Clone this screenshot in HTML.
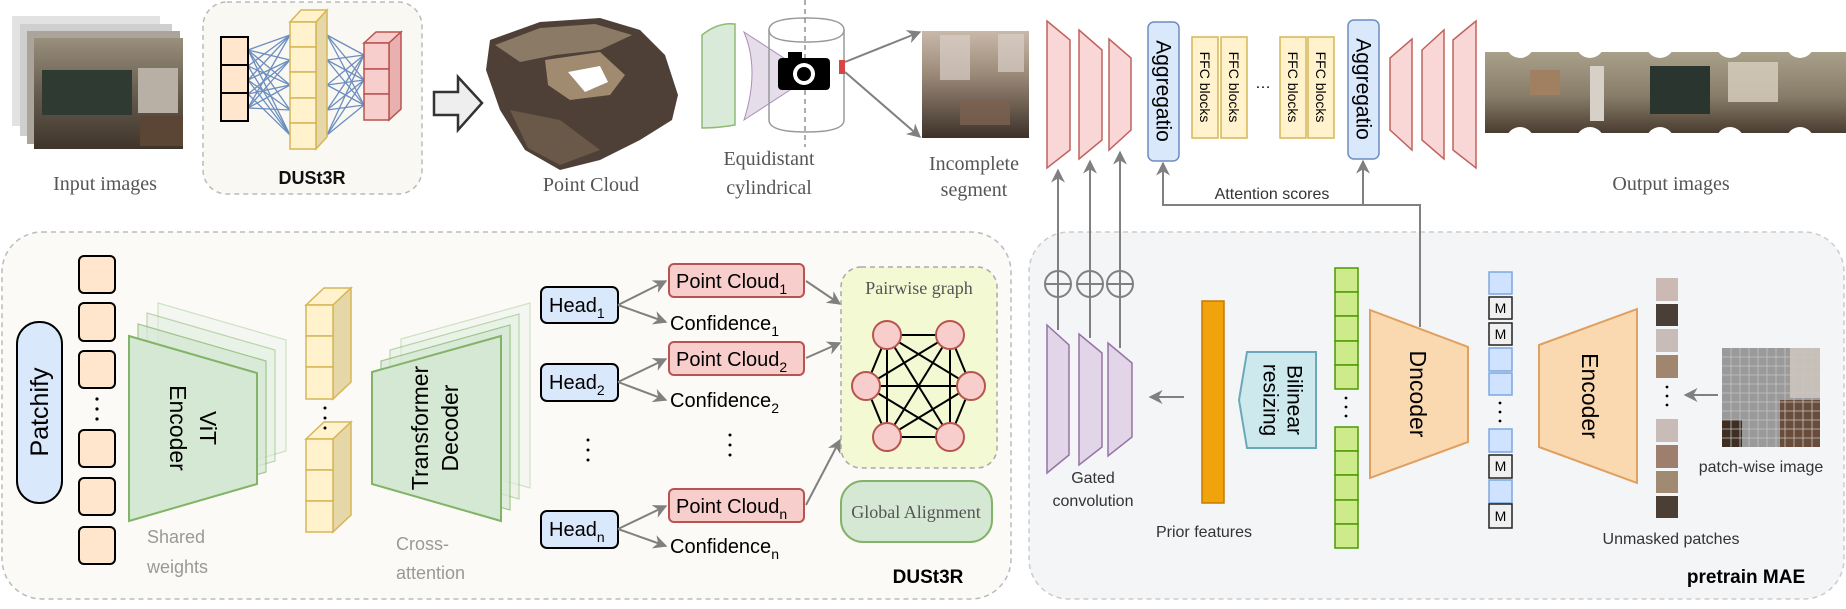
<!DOCTYPE html>
<html><head><meta charset="utf-8"><style>
html,body{margin:0;padding:0;background:#fff}
svg{display:block}
.serif{font-family:"Liberation Serif",serif;fill:#555}
.sans{font-family:"Liberation Sans",sans-serif}
</style></head><body>
<svg width="1846" height="609" viewBox="0 0 1846 609" xmlns="http://www.w3.org/2000/svg">
<defs>
<marker id="ah" viewBox="0 0 10 10" refX="9" refY="5" markerWidth="7" markerHeight="7" orient="auto-start-reverse"><path d="M0,0 L10,5 L0,10 L3,5 z" fill="#808080"/></marker>
<linearGradient id="room" x1="0" y1="0" x2="0" y2="1"><stop offset="0" stop-color="#9a8f7c"/><stop offset="0.45" stop-color="#6b6152"/><stop offset="1" stop-color="#3e342a"/></linearGradient>
<linearGradient id="seg" x1="0" y1="0" x2="0" y2="1"><stop offset="0" stop-color="#c9b9aa"/><stop offset="0.4" stop-color="#9c8a79"/><stop offset="1" stop-color="#3c3129"/></linearGradient>
<linearGradient id="pano" x1="0" y1="0" x2="0" y2="1"><stop offset="0" stop-color="#a9a08a"/><stop offset="0.55" stop-color="#877c68"/><stop offset="1" stop-color="#4a3c30"/></linearGradient>
</defs>

<!-- ============ TOP ROW ============ -->
<!-- Input images stack -->
<rect x="12" y="16" width="148" height="110" fill="#e2e2e2"/>
<rect x="20" y="24" width="152" height="112" fill="#cfcfcf"/>
<rect x="27" y="31" width="153" height="113" fill="#aaa49a"/>
<rect x="34" y="38" width="149" height="111" fill="url(#room)"/>
<rect x="42" y="70" width="90" height="45" fill="#2f3a33"/>
<rect x="138" y="68" width="40" height="45" fill="#b8b0a4"/>
<rect x="140" y="116" width="43" height="30" fill="#5b4636"/>
<text x="105" y="190" class="serif" font-size="20" text-anchor="middle">Input images</text>

<!-- DUSt3R top box -->
<rect x="203" y="2" width="219" height="192" rx="24" fill="#faf8f3" stroke="#bbb" stroke-dasharray="5,4" stroke-width="1.5"/>
<g stroke="#6c8ebf" stroke-width="1.3">
<line x1="248" y1="50" x2="290" y2="35"/><line x1="248" y1="50" x2="290" y2="60"/><line x1="248" y1="50" x2="290" y2="85"/><line x1="248" y1="50" x2="290" y2="110"/><line x1="248" y1="50" x2="290" y2="135"/>
<line x1="248" y1="66" x2="290" y2="35"/><line x1="248" y1="66" x2="290" y2="85"/><line x1="248" y1="66" x2="290" y2="135"/>
<line x1="248" y1="80" x2="290" y2="35"/><line x1="248" y1="80" x2="290" y2="60"/><line x1="248" y1="80" x2="290" y2="110"/><line x1="248" y1="80" x2="290" y2="135"/>
<line x1="248" y1="94" x2="290" y2="60"/><line x1="248" y1="94" x2="290" y2="85"/><line x1="248" y1="94" x2="290" y2="135"/>
<line x1="248" y1="108" x2="290" y2="35"/><line x1="248" y1="108" x2="290" y2="60"/><line x1="248" y1="108" x2="290" y2="85"/><line x1="248" y1="108" x2="290" y2="110"/>
<line x1="327" y1="35" x2="364" y2="55"/><line x1="327" y1="35" x2="364" y2="80"/><line x1="327" y1="35" x2="364" y2="105"/>
<line x1="327" y1="60" x2="364" y2="55"/><line x1="327" y1="60" x2="364" y2="80"/><line x1="327" y1="60" x2="364" y2="105"/>
<line x1="327" y1="85" x2="364" y2="55"/><line x1="327" y1="85" x2="364" y2="80"/><line x1="327" y1="85" x2="364" y2="105"/>
<line x1="327" y1="110" x2="364" y2="55"/><line x1="327" y1="110" x2="364" y2="80"/><line x1="327" y1="110" x2="364" y2="105"/>
<line x1="327" y1="135" x2="364" y2="55"/><line x1="327" y1="135" x2="364" y2="80"/><line x1="327" y1="135" x2="364" y2="105"/>
</g>
<g fill="#ffe6cc" stroke="#000" stroke-width="2">
<rect x="221" y="37" width="27" height="28"/><rect x="221" y="65" width="27" height="28"/><rect x="221" y="93" width="27" height="28"/>
</g>
<g stroke="#d6b656" stroke-width="1.5">
<polygon points="290,22 301,10 327,10 316,22" fill="#fff2cc"/>
<polygon points="316,22 327,10 327,137 316,149" fill="#e6d7a8"/>
<g fill="#fff2cc"><rect x="290" y="22" width="26" height="25"/><rect x="290" y="47" width="26" height="25"/><rect x="290" y="72" width="26" height="26"/><rect x="290" y="98" width="26" height="25"/><rect x="290" y="123" width="26" height="26"/></g>
</g>
<g stroke="#b85450" stroke-width="1.5">
<polygon points="364,43 376,32 401,32 389,43" fill="#f8cecc"/>
<polygon points="389,43 401,32 401,109 389,120" fill="#e8b0ae"/>
<g fill="#f8cecc"><rect x="364" y="43" width="25" height="26"/><rect x="364" y="69" width="25" height="25"/><rect x="364" y="94" width="25" height="26"/></g>
</g>
<text x="312" y="184" class="sans" font-size="18" font-weight="bold" text-anchor="middle" fill="#111">DUSt3R</text>

<!-- hollow arrow -->
<polygon points="434,92 458,92 458,77 482,103 458,130 458,115 434,115" fill="#eee" stroke="#333" stroke-width="2.5"/>

<!-- point cloud -->
<polygon points="490,40 540,22 600,18 640,30 665,55 678,95 672,120 640,140 600,160 560,170 525,150 500,110 486,70" fill="#4e4036"/>
<polygon points="495,45 540,28 595,24 632,35 600,50 555,55 520,62" fill="#8a7a66"/>
<polygon points="545,60 600,52 625,75 610,95 570,100 548,85" fill="#a08a70"/>
<polygon points="568,72 600,66 608,82 585,92" fill="#fff"/>
<polygon points="510,110 560,120 600,150 560,165 528,148" fill="#6a5848"/>
<text x="591" y="191" class="serif" font-size="20" text-anchor="middle">Point Cloud</text>

<!-- cylindrical projection -->
<path d="M702,35 Q718,22 735,24 L735,125 Q718,128 702,128 Z" fill="#d5e8d4" stroke="#82b366" stroke-width="1.5" opacity="0.9"/>
<path d="M744,32 Q760,70 744,120 L790,90 L790,62 Z" fill="#e1d5e7" stroke="#9673a6" stroke-width="1" opacity="0.8"/>
<path d="M769,30 Q769,18 806,18 Q844,18 844,30 L844,120 Q844,132 806,132 Q769,132 769,120 Z" fill="none" stroke="#999" stroke-width="1.5"/>
<path d="M769,30 Q769,42 806,42 Q844,42 844,30" fill="none" stroke="#999" stroke-width="1.5"/>
<line x1="805" y1="0" x2="805" y2="147" stroke="#777" stroke-width="1.2" stroke-dasharray="5,4"/>
<rect x="778" y="58" width="52" height="32" rx="4" fill="#000"/>
<rect x="788" y="52" width="14" height="8" fill="#000"/>
<circle cx="804" cy="74" r="11" fill="#fff"/><circle cx="804" cy="74" r="7" fill="#000"/>
<rect x="839" y="60" width="6" height="14" fill="#d64541"/>
<text x="769" y="165" class="serif" font-size="20" text-anchor="middle">Equidistant</text>
<text x="769" y="194" class="serif" font-size="20" text-anchor="middle">cylindrical</text>
<line x1="845" y1="62" x2="920" y2="32" stroke="#808080" stroke-width="2" marker-end="url(#ah)"/>
<line x1="845" y1="72" x2="920" y2="137" stroke="#808080" stroke-width="2" marker-end="url(#ah)"/>

<!-- incomplete segment -->
<rect x="922" y="31" width="107" height="107" fill="url(#seg)"/>
<rect x="940" y="35" width="30" height="45" fill="#d8cfc8" opacity="0.7"/>
<rect x="998" y="34" width="26" height="38" fill="#d8cfc8" opacity="0.7"/>
<rect x="960" y="100" width="50" height="25" fill="#7a6250" opacity="0.8"/>
<text x="974" y="170" class="serif" font-size="20" text-anchor="middle">Incomplete</text>
<text x="974" y="196" class="serif" font-size="20" text-anchor="middle">segment</text>

<!-- red trapezoids left -->
<g fill="#f8d7d6" stroke="#c0635f" stroke-width="1.5">
<polygon points="1047,21 1070,40 1070,150 1047,168"/>
<polygon points="1079,30 1102,50 1102,140 1079,159"/>
<polygon points="1109,39 1131,58 1131,130 1109,150"/>
<polygon points="1390,58 1412,39 1412,150 1390,130"/>
<polygon points="1422,50 1444,30 1444,159 1422,140"/>
<polygon points="1453,40 1476,21 1476,168 1453,150"/>
</g>
<!-- aggregatio -->
<rect x="1148" y="22" width="31" height="139" rx="6" fill="#dae8fc" stroke="#6c8ebf" stroke-width="1.5"/>
<text transform="translate(1163,91) rotate(90)" class="sans" font-size="21" text-anchor="middle" dominant-baseline="central" fill="#000">Aggregatio</text>
<rect x="1348" y="20" width="31" height="139" rx="6" fill="#dae8fc" stroke="#6c8ebf" stroke-width="1.5"/>
<text transform="translate(1363,89) rotate(90)" class="sans" font-size="21" text-anchor="middle" dominant-baseline="central" fill="#000">Aggregatio</text>
<g fill="#fff2cc" stroke="#d6b656" stroke-width="1.5">
<rect x="1192" y="37" width="26" height="101"/><rect x="1221" y="37" width="26" height="101"/>
<rect x="1280" y="37" width="26" height="101"/><rect x="1308" y="37" width="26" height="101"/>
</g>
<g class="sans" font-size="14" fill="#000" text-anchor="middle" dominant-baseline="central">
<text transform="translate(1205,87) rotate(90)">FFC blocks</text>
<text transform="translate(1234,87) rotate(90)">FFC blocks</text>
<text transform="translate(1293,87) rotate(90)">FFC blocks</text>
<text transform="translate(1321,87) rotate(90)">FFC blocks</text>
</g>
<text x="1263" y="88" class="sans" font-size="16" text-anchor="middle" fill="#000">…</text>

<!-- output panorama -->
<rect x="1485" y="52" width="361" height="81" fill="url(#pano)"/>
<rect x="1530" y="70" width="30" height="25" fill="#a08060"/>
<rect x="1650" y="66" width="60" height="48" fill="#2a3530"/>
<rect x="1728" y="62" width="50" height="40" fill="#d8d0c0" opacity="0.8"/>
<rect x="1590" y="66" width="14" height="55" fill="#d6d0c6"/>
<g fill="#fff">
<circle cx="1520" cy="44" r="14"/><circle cx="1590" cy="44" r="14"/><circle cx="1660" cy="44" r="14"/><circle cx="1730" cy="44" r="14"/><circle cx="1800" cy="44" r="14"/>
<circle cx="1520" cy="141" r="14"/><circle cx="1590" cy="141" r="14"/><circle cx="1660" cy="141" r="14"/><circle cx="1730" cy="141" r="14"/><circle cx="1800" cy="141" r="14"/>
</g>
<text x="1671" y="190" class="serif" font-size="20" text-anchor="middle">Output images</text>

<!-- ============ BOTTOM LEFT PANEL ============ -->
<rect x="2" y="232" width="1009" height="367" rx="40" fill="#fbfaf7" stroke="#bbb" stroke-width="1.5" stroke-dasharray="5,4"/>
<rect x="17" y="322" width="45" height="181" rx="22" fill="#dae8fc" stroke="#000" stroke-width="2"/>
<text transform="translate(40,412) rotate(-90)" class="sans" font-size="25" text-anchor="middle" dominant-baseline="central" fill="#000">Patchify</text>
<g fill="#ffe6cc" stroke="#000" stroke-width="2">
<rect x="79" y="256" width="36" height="37" rx="5"/><rect x="79" y="303" width="36" height="38" rx="5"/><rect x="79" y="351" width="36" height="37" rx="5"/>
<rect x="79" y="430" width="36" height="37" rx="5"/><rect x="79" y="478" width="36" height="37" rx="5"/><rect x="79" y="527" width="36" height="37" rx="5"/>
</g>
<g fill="#000"><circle cx="97" cy="399" r="1.6"/><circle cx="97" cy="409" r="1.6"/><circle cx="97" cy="419" r="1.6"/></g>

<!-- ViT encoder -->
<g stroke="#82b366" stroke-width="1.2">
<polygon points="158,303 286,340 286,451 158,488" fill="#e9f2e8" opacity="0.35"/>
<polygon points="147,313 275,350 275,461 147,498" fill="#e0eedf" opacity="0.5"/>
<polygon points="138,324 266,361 266,472 138,509" fill="#d5e8d4" opacity="0.7"/>
<polygon points="129,336 257,373 257,484 129,521" fill="#d5e8d4" stroke-width="2"/>
</g>
<text transform="translate(208,428) rotate(90)" class="sans" font-size="23" text-anchor="middle" dominant-baseline="central" fill="#000">ViT</text>
<text transform="translate(178,428) rotate(90)" class="sans" font-size="23" text-anchor="middle" dominant-baseline="central" fill="#000">Encoder</text>
<text x="147" y="543" class="sans" font-size="18" fill="#999">Shared</text>
<text x="147" y="573" class="sans" font-size="18" fill="#999">weights</text>

<!-- yellow cubes -->
<g stroke="#d6b656" stroke-width="1.5">
<polygon points="306,305 324,288 351,288 333,305" fill="#fff2cc"/>
<polygon points="333,305 351,288 351,382 333,399" fill="#e6d7a8"/>
<g fill="#fff2cc"><rect x="306" y="305" width="27" height="31"/><rect x="306" y="336" width="27" height="31"/><rect x="306" y="367" width="27" height="32"/></g>
<polygon points="306,439 324,422 351,422 333,439" fill="#fff2cc"/>
<polygon points="333,439 351,422 351,515 333,532" fill="#e6d7a8"/>
<g fill="#fff2cc"><rect x="306" y="439" width="27" height="31"/><rect x="306" y="470" width="27" height="31"/><rect x="306" y="501" width="27" height="31"/></g>
</g>
<g fill="#000"><circle cx="325" cy="408" r="1.5"/><circle cx="325" cy="418" r="1.5"/><circle cx="325" cy="428" r="1.5"/></g>

<!-- transformer decoder -->
<g stroke="#82b366" stroke-width="1.2">
<polygon points="401,339 530,303 530,488 401,451" fill="#e9f2e8" opacity="0.35"/>
<polygon points="390,350 519,314 519,499 390,462" fill="#e0eedf" opacity="0.5"/>
<polygon points="381,361 510,325 510,510 381,473" fill="#d5e8d4" opacity="0.7"/>
<polygon points="372,372 501,336 501,521 372,484" fill="#d5e8d4" stroke-width="2"/>
</g>
<text transform="translate(420,428) rotate(-90)" class="sans" font-size="23" text-anchor="middle" dominant-baseline="central" fill="#000">Transformer</text>
<text transform="translate(450,428) rotate(-90)" class="sans" font-size="23" text-anchor="middle" dominant-baseline="central" fill="#000">Decoder</text>
<text x="396" y="550" class="sans" font-size="18" fill="#999">Cross-</text>
<text x="396" y="579" class="sans" font-size="18" fill="#999">attention</text>

<!-- heads -->
<g fill="#dae8fc" stroke="#000" stroke-width="2">
<rect x="541" y="287" width="77" height="36" rx="6"/><rect x="541" y="364" width="77" height="37" rx="6"/><rect x="541" y="511" width="77" height="37" rx="6"/>
</g>
<g class="sans" font-size="20" fill="#000">
<text x="549" y="312">Head<tspan font-size="14" dy="6">1</tspan></text>
<text x="549" y="389">Head<tspan font-size="14" dy="6">2</tspan></text>
<text x="549" y="536">Head<tspan font-size="14" dy="6">n</tspan></text>
</g>
<g fill="#000"><circle cx="588" cy="440" r="1.5"/><circle cx="588" cy="450" r="1.5"/><circle cx="588" cy="460" r="1.5"/>
<circle cx="730" cy="435" r="1.5"/><circle cx="730" cy="445" r="1.5"/><circle cx="730" cy="455" r="1.5"/></g>
<g stroke="#808080" stroke-width="2" fill="none">
<line x1="618" y1="305" x2="666" y2="281" marker-end="url(#ah)"/><line x1="618" y1="305" x2="666" y2="322" marker-end="url(#ah)"/>
<line x1="618" y1="382" x2="666" y2="359" marker-end="url(#ah)"/><line x1="618" y1="382" x2="666" y2="400" marker-end="url(#ah)"/>
<line x1="618" y1="529" x2="666" y2="506" marker-end="url(#ah)"/><line x1="618" y1="529" x2="666" y2="546" marker-end="url(#ah)"/>
<line x1="806" y1="281" x2="840" y2="304" marker-end="url(#ah)"/>
<line x1="806" y1="358" x2="840" y2="343" marker-end="url(#ah)"/>
<line x1="806" y1="505" x2="840" y2="440" marker-end="url(#ah)"/>
</g>
<g fill="#f8cecc" stroke="#b85450" stroke-width="2">
<rect x="669" y="264" width="135" height="33" rx="5"/><rect x="669" y="342" width="135" height="33" rx="5"/><rect x="669" y="489" width="135" height="33" rx="5"/>
</g>
<g class="sans" font-size="20" fill="#000">
<text x="676" y="288">Point Cloud<tspan font-size="14" dy="6">1</tspan></text>
<text x="676" y="366">Point Cloud<tspan font-size="14" dy="6">2</tspan></text>
<text x="676" y="513">Point Cloud<tspan font-size="14" dy="6">n</tspan></text>
<text x="670" y="330">Confidence<tspan font-size="14" dy="6">1</tspan></text>
<text x="670" y="407">Confidence<tspan font-size="14" dy="6">2</tspan></text>
<text x="670" y="553">Confidence<tspan font-size="14" dy="6">n</tspan></text>
</g>

<!-- pairwise graph -->
<rect x="841" y="267" width="156" height="201" rx="20" fill="#f2f9d3" stroke="#aaa" stroke-width="1.5" stroke-dasharray="5,4"/>
<text x="919" y="294" class="serif" font-size="18" text-anchor="middle" fill="#222">Pairwise graph</text>
<g stroke="#000" stroke-width="2">
<line x1="887" y1="335" x2="950" y2="335"/><line x1="887" y1="335" x2="866" y2="386"/><line x1="887" y1="335" x2="971" y2="386"/><line x1="887" y1="335" x2="887" y2="437"/><line x1="887" y1="335" x2="950" y2="437"/>
<line x1="950" y1="335" x2="866" y2="386"/><line x1="950" y1="335" x2="971" y2="386"/><line x1="950" y1="335" x2="887" y2="437"/><line x1="950" y1="335" x2="950" y2="437"/>
<line x1="866" y1="386" x2="971" y2="386"/><line x1="866" y1="386" x2="887" y2="437"/><line x1="866" y1="386" x2="950" y2="437"/>
<line x1="971" y1="386" x2="887" y2="437"/><line x1="971" y1="386" x2="950" y2="437"/>
<line x1="887" y1="437" x2="950" y2="437"/>
</g>
<g fill="#f8cecc" stroke="#b85450" stroke-width="2">
<circle cx="887" cy="335" r="14"/><circle cx="950" cy="335" r="14"/><circle cx="866" cy="386" r="14"/><circle cx="971" cy="386" r="14"/><circle cx="887" cy="437" r="14"/><circle cx="950" cy="437" r="14"/>
</g>
<rect x="841" y="481" width="151" height="61" rx="22" fill="#d5e8d4" stroke="#82b366" stroke-width="2"/>
<text x="916" y="518" class="serif" font-size="18" text-anchor="middle" fill="#222">Global Alignment</text>
<text x="928" y="583" class="sans" font-size="19" font-weight="bold" text-anchor="middle" fill="#000">DUSt3R</text>

<!-- ============ MAE PANEL ============ -->
<rect x="1029" y="232" width="815" height="367" rx="40" fill="#f4f5f7" stroke="#ccc" stroke-width="1.5" stroke-dasharray="5,4"/>

<!-- vertical feed lines -->
<g stroke="#808080" stroke-width="2" fill="none">
<line x1="1058" y1="330" x2="1058" y2="170" marker-end="url(#ah)"/>
<line x1="1090" y1="338" x2="1090" y2="161" marker-end="url(#ah)"/>
<line x1="1120" y1="348" x2="1120" y2="152" marker-end="url(#ah)"/>
<polyline points="1420,327 1420,205 1163,205 1163,163" marker-end="url(#ah)"/>
<line x1="1363" y1="205" x2="1363" y2="161" marker-end="url(#ah)"/>
</g>
<g fill="#f4f5f7" stroke="#808080" stroke-width="2">
<circle cx="1058" cy="284" r="13"/><circle cx="1090" cy="284" r="13"/><circle cx="1120" cy="284" r="13"/>
<line x1="1045" y1="284" x2="1071" y2="284"/><line x1="1077" y1="284" x2="1103" y2="284"/><line x1="1107" y1="284" x2="1133" y2="284"/>
<line x1="1058" y1="271" x2="1058" y2="297"/><line x1="1090" y1="271" x2="1090" y2="297"/><line x1="1120" y1="271" x2="1120" y2="297"/>
</g>
<text x="1272" y="199" class="sans" font-size="16" text-anchor="middle" fill="#333">Attention scores</text>

<!-- purple trapezoids -->
<g fill="#e1d5e7" stroke="#9673a6" stroke-width="1.5">
<polygon points="1047,325 1069,345 1069,455 1047,473"/>
<polygon points="1079,334 1102,353 1102,447 1079,465"/>
<polygon points="1108,343 1132,363 1132,437 1108,456"/>
</g>
<text x="1093" y="483" class="sans" font-size="16" text-anchor="middle" fill="#333">Gated</text>
<text x="1093" y="506" class="sans" font-size="16" text-anchor="middle" fill="#333">convolution</text>
<line x1="1184" y1="397" x2="1150" y2="397" stroke="#808080" stroke-width="2" marker-end="url(#ah)"/>
<rect x="1202" y="301" width="22" height="202" fill="#f0a30a" stroke="#c67b00" stroke-width="1.5"/>
<text x="1204" y="537" class="sans" font-size="16" text-anchor="middle" fill="#333">Prior features</text>
<polygon points="1247,352 1316,352 1316,448 1247,448 1239,400" fill="#cde9ee" stroke="#6aa9b9" stroke-width="2"/>
<text transform="translate(1294,400) rotate(90)" class="sans" font-size="21" text-anchor="middle" dominant-baseline="central" fill="#000">Bilinear</text>
<text transform="translate(1270,400) rotate(90)" class="sans" font-size="21" text-anchor="middle" dominant-baseline="central" fill="#000">resizing</text>

<!-- green column -->
<g fill="#cdeb8b" stroke="#4d9900" stroke-width="1.5">
<rect x="1335" y="268" width="23" height="24"/><rect x="1335" y="292" width="23" height="24"/><rect x="1335" y="316" width="23" height="25"/><rect x="1335" y="341" width="23" height="24"/><rect x="1335" y="365" width="23" height="24"/>
<rect x="1335" y="427" width="23" height="24"/><rect x="1335" y="451" width="23" height="24"/><rect x="1335" y="475" width="23" height="25"/><rect x="1335" y="500" width="23" height="24"/><rect x="1335" y="524" width="23" height="24"/>
</g>
<g fill="#000"><circle cx="1346" cy="398" r="1.4"/><circle cx="1346" cy="407" r="1.4"/><circle cx="1346" cy="416" r="1.4"/>
<circle cx="1500" cy="403" r="1.4"/><circle cx="1500" cy="412" r="1.4"/><circle cx="1500" cy="421" r="1.4"/>
<circle cx="1667" cy="387" r="1.4"/><circle cx="1667" cy="396" r="1.4"/><circle cx="1667" cy="405" r="1.4"/></g>

<!-- Dncoder -->
<polygon points="1370,310 1468,347 1468,442 1370,478" fill="#fad9b0" stroke="#e0a060" stroke-width="2"/>
<text transform="translate(1418,394) rotate(90)" class="sans" font-size="23" text-anchor="middle" dominant-baseline="central" fill="#000">Dncoder</text>

<!-- blue / M column -->
<g stroke="#7ea6e0" stroke-width="1.5" fill="#cfe2ff">
<rect x="1489" y="272" width="23" height="22"/><rect x="1489" y="348" width="23" height="23"/><rect x="1489" y="373" width="23" height="22"/>
<rect x="1489" y="429" width="23" height="23"/><rect x="1489" y="480" width="23" height="23"/>
</g>
<g stroke="#222" stroke-width="1.5" fill="#f0f0f0">
<rect x="1489" y="297" width="23" height="22"/><rect x="1489" y="323" width="23" height="22"/><rect x="1489" y="455" width="23" height="23"/><rect x="1489" y="504" width="23" height="24"/>
</g>
<g class="sans" font-size="14" text-anchor="middle" fill="#000">
<text x="1500.5" y="313">M</text><text x="1500.5" y="339">M</text><text x="1500.5" y="471">M</text><text x="1500.5" y="521">M</text>
</g>

<!-- Encoder -->
<polygon points="1539,345 1637,309 1637,483 1539,447" fill="#fad9b0" stroke="#e0a060" stroke-width="2"/>
<text transform="translate(1590,396) rotate(90)" class="sans" font-size="23" text-anchor="middle" dominant-baseline="central" fill="#000">Encoder</text>

<!-- unmasked patches -->
<g>
<rect x="1656" y="278" width="22" height="23" fill="#cbb9b4"/><rect x="1656" y="304" width="22" height="22" fill="#4a3f36"/><rect x="1656" y="329" width="22" height="23" fill="#c8bcb8"/><rect x="1656" y="355" width="22" height="23" fill="#a0866e"/>
<rect x="1656" y="419" width="22" height="23" fill="#c9bcb8"/><rect x="1656" y="445" width="22" height="23" fill="#9e7e6c"/><rect x="1656" y="471" width="22" height="22" fill="#a08a72"/><rect x="1656" y="496" width="22" height="22" fill="#4b3e35"/>
</g>
<text x="1671" y="544" class="sans" font-size="16" text-anchor="middle" fill="#333">Unmasked patches</text>
<line x1="1718" y1="395" x2="1685" y2="395" stroke="#808080" stroke-width="2" marker-end="url(#ah)"/>

<!-- patch-wise image -->
<rect x="1722" y="348" width="98" height="99" fill="#9a9a9a"/>
<rect x="1790" y="348" width="30" height="50" fill="#c8c0b8"/>
<rect x="1780" y="400" width="40" height="47" fill="#6a4c3a"/>
<rect x="1722" y="420" width="20" height="27" fill="#3e2e24"/>
<g stroke="#c4c4c4" stroke-width="0.8">
<line x1="1722" y1="357" x2="1820" y2="357"/><line x1="1722" y1="366" x2="1820" y2="366"/><line x1="1722" y1="375" x2="1820" y2="375"/><line x1="1722" y1="384" x2="1820" y2="384"/><line x1="1722" y1="393" x2="1820" y2="393"/><line x1="1722" y1="402" x2="1820" y2="402"/><line x1="1722" y1="411" x2="1820" y2="411"/><line x1="1722" y1="420" x2="1820" y2="420"/><line x1="1722" y1="429" x2="1820" y2="429"/><line x1="1722" y1="438" x2="1820" y2="438"/>
<line x1="1731" y1="348" x2="1731" y2="447"/><line x1="1740" y1="348" x2="1740" y2="447"/><line x1="1749" y1="348" x2="1749" y2="447"/><line x1="1758" y1="348" x2="1758" y2="447"/><line x1="1767" y1="348" x2="1767" y2="447"/><line x1="1776" y1="348" x2="1776" y2="447"/><line x1="1785" y1="348" x2="1785" y2="447"/><line x1="1794" y1="348" x2="1794" y2="447"/><line x1="1803" y1="348" x2="1803" y2="447"/><line x1="1812" y1="348" x2="1812" y2="447"/>
</g>
<text x="1761" y="472" class="sans" font-size="16" text-anchor="middle" fill="#333">patch-wise image</text>
<text x="1746" y="583" class="sans" font-size="19" font-weight="bold" text-anchor="middle" fill="#000">pretrain MAE</text>
</svg>
</body></html>
